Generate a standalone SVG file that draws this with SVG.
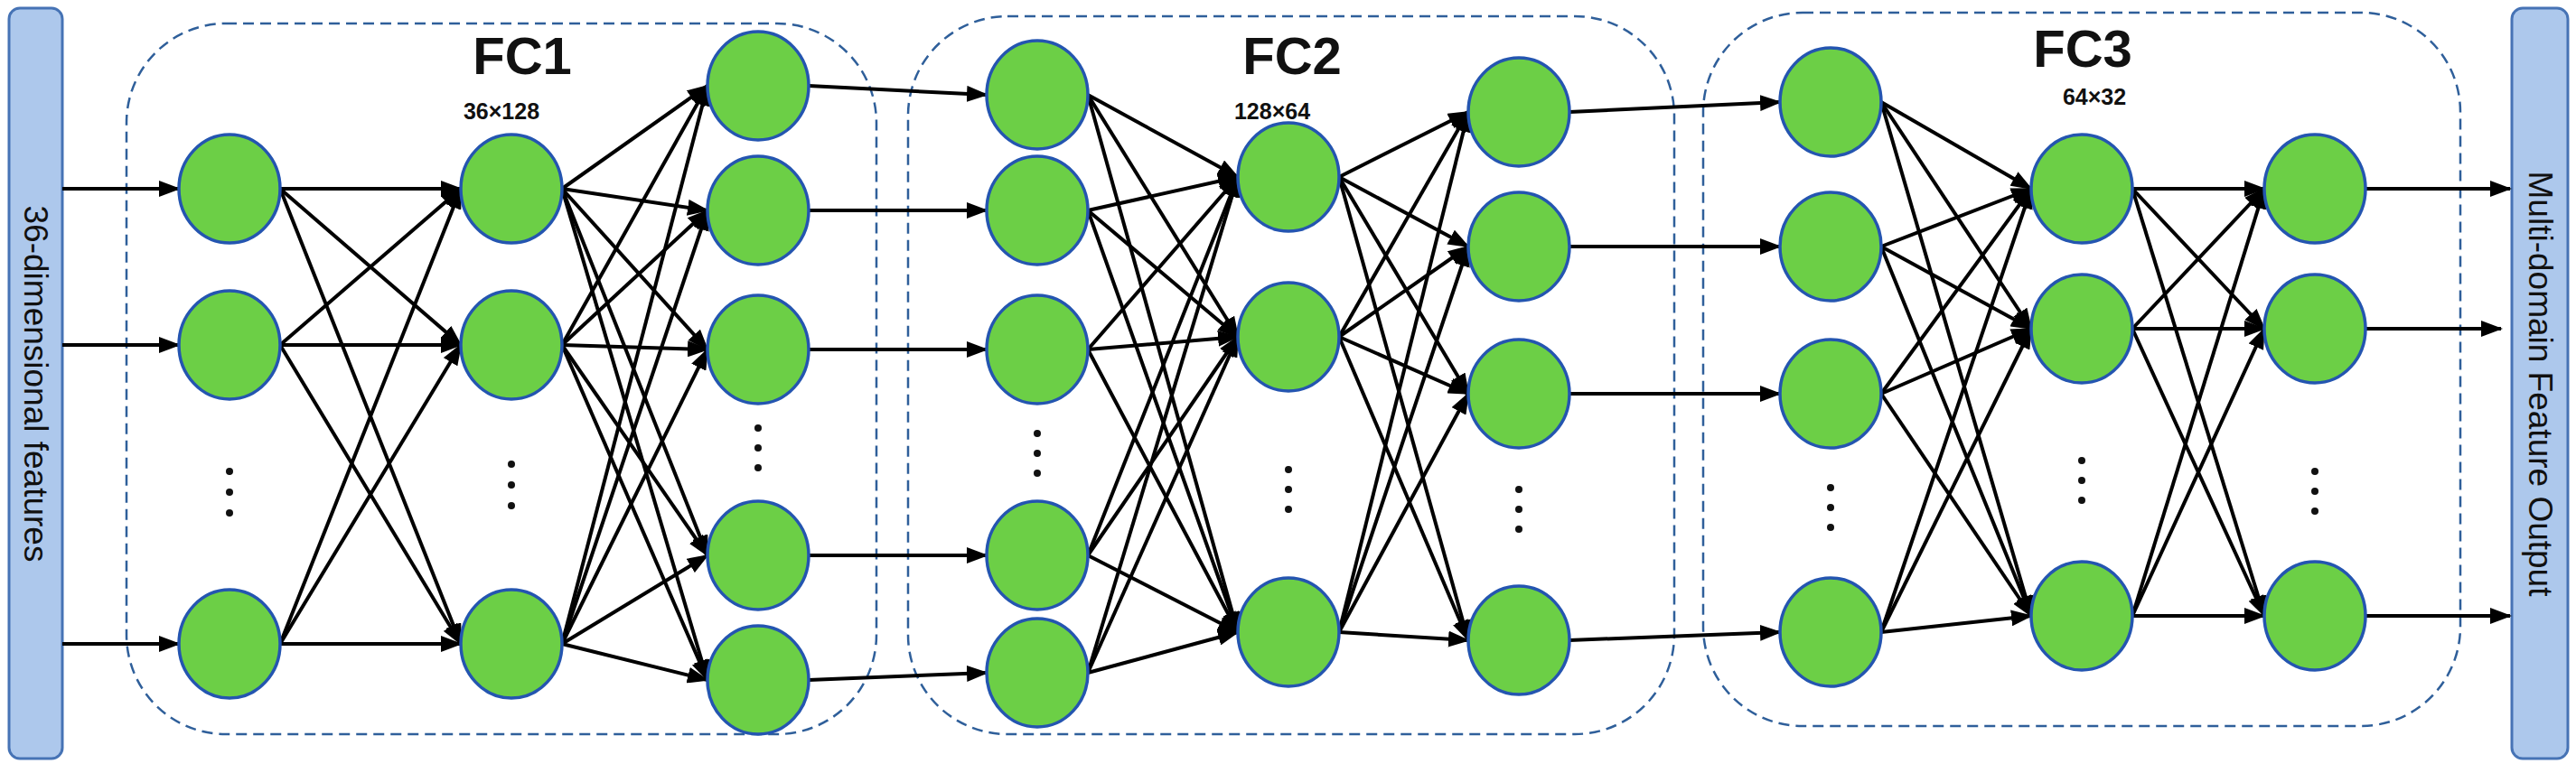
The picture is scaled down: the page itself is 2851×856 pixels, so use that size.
<svg xmlns="http://www.w3.org/2000/svg" width="2851" height="856" viewBox="0 0 2851 856">
<style>
.bar{fill:#adc8ec;stroke:#4673b5;stroke-width:3}
.box{fill:none;stroke:#2f5f9a;stroke-width:2.5;stroke-dasharray:12 7}
.n{fill:#6ccf46;stroke:#2455b0;stroke-width:3.5}
.c line{stroke:#000;stroke-width:4;marker-end:url(#ah)}
.t{font-family:"Liberation Sans",Arial,sans-serif;font-weight:bold;fill:#111;text-anchor:middle}
.v{font-family:"Liberation Sans",Arial,sans-serif;font-size:37px;fill:#111;text-anchor:middle}
.d{fill:#111}
</style>
<defs><marker id="ah" markerUnits="userSpaceOnUse" markerWidth="24" markerHeight="18" refX="22" refY="9" orient="auto"><path d="M0,0 L24,9 L0,18 z" fill="#000"/></marker></defs>
<rect class="bar" x="10" y="9" width="59" height="831" rx="12"/>
<text class="v" transform="translate(27,425) rotate(90)">36-dimensional features</text>
<rect class="bar" x="2780" y="9" width="62" height="831" rx="12"/>
<text class="v" transform="translate(2799,425) rotate(90)">Multi-domain Feature Output</text>
<rect class="box" x="140" y="26" width="830" height="787" rx="110"/>
<rect class="box" x="1005" y="18" width="848" height="795" rx="110"/>
<rect class="box" x="1885" y="14" width="838" height="790" rx="110"/>
<text class="t" x="578" y="82" font-size="58">FC1</text>
<text class="t" x="555" y="132" font-size="25">36×128</text>
<text class="t" x="1430" y="82" font-size="58">FC2</text>
<text class="t" x="1408" y="132" font-size="25">128×64</text>
<text class="t" x="2305" y="74" font-size="58">FC3</text>
<text class="t" x="2318" y="116" font-size="25">64×32</text>
<g class="c" id="connectors">
<line x1="69" y1="209" x2="198" y2="209"/><line x1="69" y1="382" x2="198" y2="382"/><line x1="69" y1="713" x2="198" y2="713"/>
<line x1="310" y1="209" x2="510" y2="209"/><line x1="310" y1="209" x2="510" y2="382"/><line x1="310" y1="209" x2="510" y2="713"/>
<line x1="310" y1="382" x2="510" y2="209"/><line x1="310" y1="382" x2="510" y2="382"/><line x1="310" y1="382" x2="510" y2="713"/>
<line x1="310" y1="713" x2="510" y2="209"/><line x1="310" y1="713" x2="510" y2="382"/><line x1="310" y1="713" x2="510" y2="713"/>
<line x1="622" y1="209" x2="783" y2="95"/><line x1="622" y1="209" x2="783" y2="233"/><line x1="622" y1="209" x2="783" y2="387"/><line x1="622" y1="209" x2="783" y2="615"/><line x1="622" y1="209" x2="783" y2="753"/>
<line x1="622" y1="382" x2="783" y2="95"/><line x1="622" y1="382" x2="783" y2="233"/><line x1="622" y1="382" x2="783" y2="387"/><line x1="622" y1="382" x2="783" y2="615"/><line x1="622" y1="382" x2="783" y2="753"/>
<line x1="622" y1="713" x2="783" y2="95"/><line x1="622" y1="713" x2="783" y2="233"/><line x1="622" y1="713" x2="783" y2="387"/><line x1="622" y1="713" x2="783" y2="615"/><line x1="622" y1="713" x2="783" y2="753"/>
<line x1="895" y1="95" x2="1092" y2="105"/><line x1="895" y1="233" x2="1092" y2="233"/><line x1="895" y1="387" x2="1092" y2="387"/><line x1="895" y1="615" x2="1092" y2="615"/><line x1="895" y1="753" x2="1092" y2="745"/>
<line x1="1204" y1="105" x2="1370" y2="196"/><line x1="1204" y1="105" x2="1370" y2="373"/><line x1="1204" y1="105" x2="1370" y2="700"/>
<line x1="1204" y1="233" x2="1370" y2="196"/><line x1="1204" y1="233" x2="1370" y2="373"/><line x1="1204" y1="233" x2="1370" y2="700"/>
<line x1="1204" y1="387" x2="1370" y2="196"/><line x1="1204" y1="387" x2="1370" y2="373"/><line x1="1204" y1="387" x2="1370" y2="700"/>
<line x1="1204" y1="615" x2="1370" y2="196"/><line x1="1204" y1="615" x2="1370" y2="373"/><line x1="1204" y1="615" x2="1370" y2="700"/>
<line x1="1204" y1="745" x2="1370" y2="196"/><line x1="1204" y1="745" x2="1370" y2="373"/><line x1="1204" y1="745" x2="1370" y2="700"/>
<line x1="1482" y1="196" x2="1625" y2="124"/><line x1="1482" y1="196" x2="1625" y2="273"/><line x1="1482" y1="196" x2="1625" y2="436"/><line x1="1482" y1="196" x2="1625" y2="709"/>
<line x1="1482" y1="373" x2="1625" y2="124"/><line x1="1482" y1="373" x2="1625" y2="273"/><line x1="1482" y1="373" x2="1625" y2="436"/><line x1="1482" y1="373" x2="1625" y2="709"/>
<line x1="1482" y1="700" x2="1625" y2="124"/><line x1="1482" y1="700" x2="1625" y2="273"/><line x1="1482" y1="700" x2="1625" y2="436"/><line x1="1482" y1="700" x2="1625" y2="709"/>
<line x1="1737" y1="124" x2="1970" y2="113"/><line x1="1737" y1="273" x2="1970" y2="273"/><line x1="1737" y1="436" x2="1970" y2="436"/><line x1="1737" y1="709" x2="1970" y2="700"/>
<line x1="2082" y1="113" x2="2248" y2="209"/><line x1="2082" y1="113" x2="2248" y2="364"/><line x1="2082" y1="113" x2="2248" y2="682"/>
<line x1="2082" y1="273" x2="2248" y2="209"/><line x1="2082" y1="273" x2="2248" y2="364"/><line x1="2082" y1="273" x2="2248" y2="682"/>
<line x1="2082" y1="436" x2="2248" y2="209"/><line x1="2082" y1="436" x2="2248" y2="364"/><line x1="2082" y1="436" x2="2248" y2="682"/>
<line x1="2082" y1="700" x2="2248" y2="209"/><line x1="2082" y1="700" x2="2248" y2="364"/><line x1="2082" y1="700" x2="2248" y2="682"/>
<line x1="2360" y1="209" x2="2506" y2="209"/><line x1="2360" y1="209" x2="2506" y2="364"/><line x1="2360" y1="209" x2="2506" y2="682"/>
<line x1="2360" y1="364" x2="2506" y2="209"/><line x1="2360" y1="364" x2="2506" y2="364"/><line x1="2360" y1="364" x2="2506" y2="682"/>
<line x1="2360" y1="682" x2="2506" y2="209"/><line x1="2360" y1="682" x2="2506" y2="364"/><line x1="2360" y1="682" x2="2506" y2="682"/>
<line x1="2618" y1="209" x2="2778" y2="209"/><line x1="2618" y1="364" x2="2768" y2="364"/><line x1="2618" y1="682" x2="2778" y2="682"/>
</g>
<g id="layerA"><ellipse class="n" cx="254" cy="209" rx="56" ry="60"/><ellipse class="n" cx="254" cy="382" rx="56" ry="60"/><ellipse class="n" cx="254" cy="713" rx="56" ry="60"/><circle class="d" cx="254" cy="522" r="4"/><circle class="d" cx="254" cy="545" r="4"/><circle class="d" cx="254" cy="568" r="4"/></g>
<g id="layerB"><ellipse class="n" cx="566" cy="209" rx="56" ry="60"/><ellipse class="n" cx="566" cy="382" rx="56" ry="60"/><ellipse class="n" cx="566" cy="713" rx="56" ry="60"/><circle class="d" cx="566" cy="514" r="4"/><circle class="d" cx="566" cy="537" r="4"/><circle class="d" cx="566" cy="560" r="4"/></g>
<g id="layerC"><ellipse class="n" cx="839" cy="95" rx="56" ry="60"/><ellipse class="n" cx="839" cy="233" rx="56" ry="60"/><ellipse class="n" cx="839" cy="387" rx="56" ry="60"/><ellipse class="n" cx="839" cy="615" rx="56" ry="60"/><ellipse class="n" cx="839" cy="753" rx="56" ry="60"/><circle class="d" cx="839" cy="474" r="4"/><circle class="d" cx="839" cy="496" r="4"/><circle class="d" cx="839" cy="518" r="4"/></g>
<g id="layerD"><ellipse class="n" cx="1148" cy="105" rx="56" ry="60"/><ellipse class="n" cx="1148" cy="233" rx="56" ry="60"/><ellipse class="n" cx="1148" cy="387" rx="56" ry="60"/><ellipse class="n" cx="1148" cy="615" rx="56" ry="60"/><ellipse class="n" cx="1148" cy="745" rx="56" ry="60"/><circle class="d" cx="1148" cy="480" r="4"/><circle class="d" cx="1148" cy="502" r="4"/><circle class="d" cx="1148" cy="524" r="4"/></g>
<g id="layerE"><ellipse class="n" cx="1426" cy="196" rx="56" ry="60"/><ellipse class="n" cx="1426" cy="373" rx="56" ry="60"/><ellipse class="n" cx="1426" cy="700" rx="56" ry="60"/><circle class="d" cx="1426" cy="520" r="4"/><circle class="d" cx="1426" cy="542" r="4"/><circle class="d" cx="1426" cy="564" r="4"/></g>
<g id="layerF"><ellipse class="n" cx="1681" cy="124" rx="56" ry="60"/><ellipse class="n" cx="1681" cy="273" rx="56" ry="60"/><ellipse class="n" cx="1681" cy="436" rx="56" ry="60"/><ellipse class="n" cx="1681" cy="709" rx="56" ry="60"/><circle class="d" cx="1681" cy="542" r="4"/><circle class="d" cx="1681" cy="564" r="4"/><circle class="d" cx="1681" cy="586" r="4"/></g>
<g id="layerG"><ellipse class="n" cx="2026" cy="113" rx="56" ry="60"/><ellipse class="n" cx="2026" cy="273" rx="56" ry="60"/><ellipse class="n" cx="2026" cy="436" rx="56" ry="60"/><ellipse class="n" cx="2026" cy="700" rx="56" ry="60"/><circle class="d" cx="2026" cy="540" r="4"/><circle class="d" cx="2026" cy="562" r="4"/><circle class="d" cx="2026" cy="584" r="4"/></g>
<g id="layerH"><ellipse class="n" cx="2304" cy="209" rx="56" ry="60"/><ellipse class="n" cx="2304" cy="364" rx="56" ry="60"/><ellipse class="n" cx="2304" cy="682" rx="56" ry="60"/><circle class="d" cx="2304" cy="510" r="4"/><circle class="d" cx="2304" cy="532" r="4"/><circle class="d" cx="2304" cy="554" r="4"/></g>
<g id="layerI"><ellipse class="n" cx="2562" cy="209" rx="56" ry="60"/><ellipse class="n" cx="2562" cy="364" rx="56" ry="60"/><ellipse class="n" cx="2562" cy="682" rx="56" ry="60"/><circle class="d" cx="2562" cy="522" r="4"/><circle class="d" cx="2562" cy="544" r="4"/><circle class="d" cx="2562" cy="566" r="4"/></g>
</svg>
